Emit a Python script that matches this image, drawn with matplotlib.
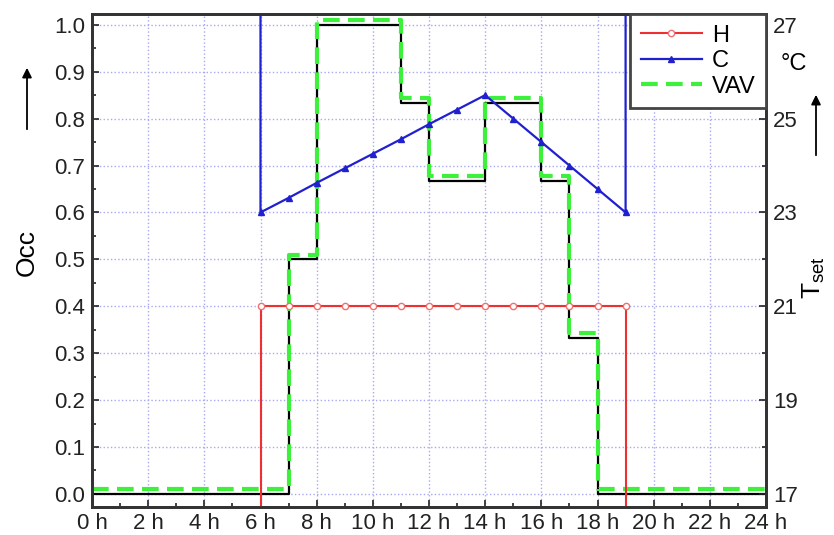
import numpy as np
import matplotlib.pyplot as plt
from matplotlib.lines import Line2D

plt.rcParams['font.family'] = ['Liberation Sans', 'DejaVu Sans']
plt.rcParams['mathtext.default'] = 'regular'

# occupancy profile (left axis), step changes at these hours
occ_hours = [0, 7, 8, 11, 12, 14, 16, 17, 18, 24]
occ = [0.0, 0.5, 1.0, 0.833, 0.667, 0.833, 0.667, 0.333, 0.0, 0.0]
vav = [0.01, 0.51, 1.01, 0.843, 0.677, 0.843, 0.677, 0.343, 0.01, 0.01]

# set-point temperatures (right axis) during the occupied hours
set_hours = [6, 7, 8, 9, 10, 11, 12, 13, 14, 15, 16, 17, 18, 19]
heat_set = [21, 21, 21, 21, 21, 21, 21, 21, 21, 21, 21, 21, 21, 21]
cool_set = [23.0, 23.31, 23.63, 23.94, 24.25, 24.56, 24.88, 25.19, 25.5,
            25.0, 24.5, 24.0, 23.5, 23.0]
heat_off = 15
cool_off = 30

xticks = list(range(0, 25, 2))
xlabels = [f'{h} h' for h in xticks]

fig = plt.figure(figsize=(8.34, 5.35), dpi=100)
ax = fig.add_axes([92/834, 1-507/535, 674/834, 493/535])
ax2 = ax.twinx()

grid_c = '#a8a8f0'
ax.grid(True, which='major', color=grid_c, linestyle=':', linewidth=1.0)

ax.step(occ_hours, occ, where='post', color='black', lw=1.6, zorder=3)
ax.step(occ_hours, vav, where='post', color='#3cf03c', lw=3,
        dashes=(4, 2), zorder=4)

x_full = [0, set_hours[0]] + set_hours + [set_hours[-1], 24]
h_full = [heat_off, heat_off] + heat_set + [heat_off, heat_off]
c_full = [cool_off, cool_off] + cool_set + [cool_off, cool_off]
marks = list(range(2, 2 + len(set_hours)))

ax2.plot(x_full, h_full, color='#ee3030', lw=1.5, marker='o', ms=4.5,
         mfc='white', mec='#f07070', markevery=marks)
ax2.plot(x_full, c_full, color='#2020d0', lw=1.6, marker='^', ms=5,
         markevery=marks)

ax.set_xlim(0, 24)
ax.set_ylim(-0.028, 1.023)
ax2.set_ylim(16.72, 27.23)

ax.set_xticks(xticks)
ax.set_xticklabels(xlabels)
ax.set_xticks(range(0, 25), minor=True)
ax.set_yticks(np.arange(0, 1.01, 0.1))
ax.set_yticklabels([f'{v:.1f}' for v in np.arange(0, 1.01, 0.1)])
ax.set_yticks(np.arange(0, 1.01, 0.05), minor=True)
ax2.set_yticks([17, 19, 21, 23, 25, 27])
ax2.set_yticks(range(17, 28), minor=True)

for a in (ax, ax2):
    a.tick_params(which='both', direction='in', labelsize=16,
                  colors='#222222', width=1.2)
    a.tick_params(which='major', length=5)
    a.tick_params(which='minor', length=3)
    for s in a.spines.values():
        s.set_linewidth(2)
        s.set_color('#333333')
ax.tick_params(axis='x', pad=4)
ax.tick_params(axis='y', pad=5)
ax2.tick_params(axis='y', pad=5)

# axis titles, unit and arrows placed in figure space like the original
fig.text(27/834, 1-252/535, 'Occ', fontsize=19, rotation=90,
         ha='center', va='center')
fig.text(814/834, 1-278/535, 'T$_{set}$', fontsize=19, rotation=90,
         ha='center', va='center')
fig.text(794/834, 1-64/535, '°C', fontsize=17, ha='center', va='center')
ax.annotate('', xy=(816/834, 1-92/535), xytext=(816/834, 1-158/535),
            xycoords='figure fraction', annotation_clip=False,
            arrowprops=dict(arrowstyle='-|>', color='black', lw=1.3,
                            mutation_scale=14))
ax.annotate('', xy=(27/834, 1-65/535), xytext=(27/834, 1-132/535),
            xycoords='figure fraction', annotation_clip=False,
            arrowprops=dict(arrowstyle='-|>', color='black', lw=1.3,
                            mutation_scale=14))

handles = [
    Line2D([], [], color='#ee3030', lw=1.5, marker='o', ms=4.5,
           mfc='white', mec='#f07070'),
    Line2D([], [], color='#2020d0', lw=1.6, marker='^', ms=5),
    Line2D([], [], color='#3cf03c', lw=3, dashes=(4, 2)),
]
leg = ax2.legend(handles, ['H', 'C', 'VAV'], loc='upper right',
                 fontsize=17, frameon=True, fancybox=False,
                 borderaxespad=0, handlelength=2.6, labelspacing=0.15,
                 handletextpad=0.4, borderpad=0.45, framealpha=1)
leg.get_frame().set_edgecolor('#444444')
leg.get_frame().set_linewidth(2)

fig.savefig('out.png', dpi=100)
